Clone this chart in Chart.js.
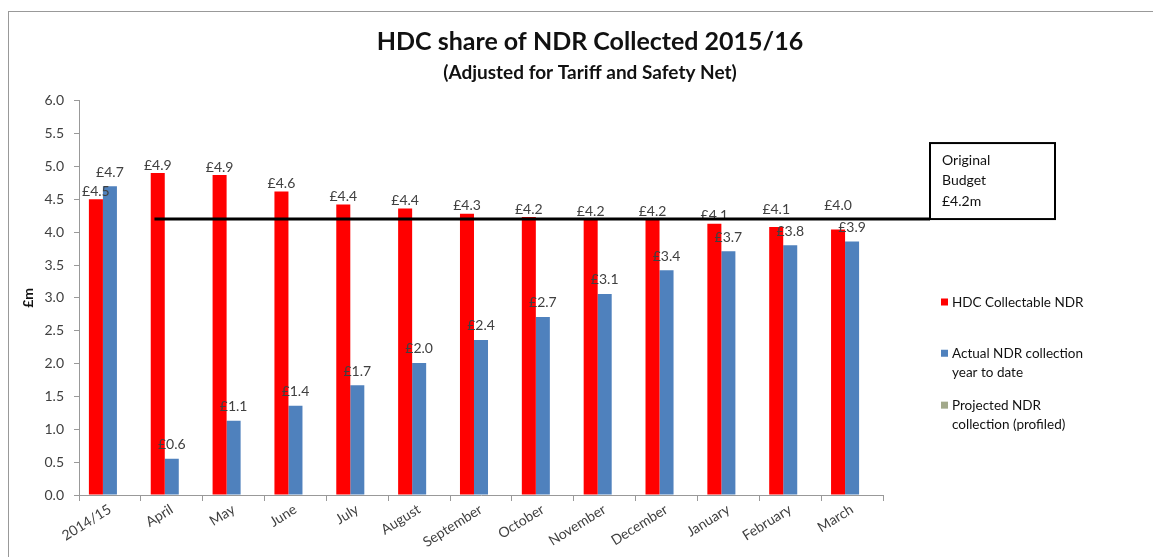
<!DOCTYPE html>
<html lang="en">
<head>
  <meta charset="UTF-8" />
  <title>HDC share of NDR Collected 2015/16</title>
  <script src="https://cdn.jsdelivr.net/npm/chart.js"></script>
  <style>
    body { margin: 0; background: #fff; font-family: Lato, sans-serif; overflow: hidden; }
    #frame { position: absolute; left: 8px; top: 11px; width: 1145px; height: 546px; border-top: 1px solid #999; border-left: 1px solid #999; }
    #frame canvas { display: block; }
  </style>
</head>
<body>
  <div id="frame"><canvas id="ndrChart" width="1144" height="545"></canvas></div>

  <script>
    // values, £m
    const categories = ['2014/15', 'April', 'May', 'June', 'July', 'August', 'September',
      'October', 'November', 'December', 'January', 'February', 'March'];
    const collectable = [4.50, 4.90, 4.87, 4.62, 4.42, 4.36, 4.28, 4.23, 4.20, 4.20, 4.13, 4.08, 4.04];
    const actualToDate = [4.70, 0.55, 1.13, 1.36, 1.67, 2.01, 2.36, 2.71, 3.06, 3.42, 3.71, 3.80, 3.86];
    const projected = [null, null, null, null, null, null, null, null, null, null, null, null, null];
    const budget = 4.2;
    const budgetText = ['Original', 'Budget', '£4.2m'];
    const yTicks = { min: 0, max: 6, step: 0.5 };

    const FONT = 'Lato, sans-serif';
    const TEXT = '#404040';

    // £ labels over each bar; red label moves up if the blue one sits just under it
    const barLabels = {
      id: 'barLabels',
      afterDatasetsDraw(chart) {
        const ctx = chart.ctx;
        const red = chart.getDatasetMeta(0).data;
        const blue = chart.getDatasetMeta(1).data;
        ctx.save();
        ctx.font = '14px ' + FONT;
        ctx.fillStyle = TEXT;
        ctx.textAlign = 'center';
        ctx.textBaseline = 'middle';
        red.forEach((bar, j) => {
          const b = blue[j];
          const by = b.y - 14;
          let ry = bar.y - 8;
          if (by >= ry && by - ry < 16) ry = by - 22;
          ctx.fillText('£' + collectable[j].toFixed(1), bar.x, ry);
          ctx.fillText('£' + actualToDate[j].toFixed(1), b.x, by);
        });
        ctx.restore();
      }
    };

    // budget line + callout box + side legend
    const budgetAndLegend = {
      id: 'budgetAndLegend',
      afterDraw(chart) {
        const ctx = chart.ctx;
        const x = chart.scales.x, y = chart.scales.y;
        const area = chart.chartArea;
        const catW = x.getPixelForValue(1) - x.getPixelForValue(0);
        const yb = y.getPixelForValue(budget);
        const boxL = area.right + 47, boxR = boxL + 125, boxT = yb - 76;

        ctx.save();
        ctx.strokeStyle = '#000';
        ctx.lineWidth = 3;
        ctx.beginPath();
        ctx.moveTo(x.getPixelForValue(1) - catW * 0.28, yb);
        ctx.lineTo(boxL, yb);
        ctx.stroke();

        ctx.lineWidth = 2;
        ctx.strokeRect(boxL, boxT, boxR - boxL, yb - boxT);
        ctx.fillStyle = '#111';
        ctx.font = '14px ' + FONT;
        ctx.textAlign = 'left';
        ctx.textBaseline = 'middle';
        budgetText.forEach((t, k) => ctx.fillText(t, boxL + 12, boxT + 17 + k * 20.5));

        // legend
        const lx = area.right + 58;
        const rows = [
          { ds: 0, lines: ['HDC Collectable NDR'], top: y.getPixelForValue(2.93) },
          { ds: 1, lines: ['Actual NDR collection', 'year to date'], top: y.getPixelForValue(2.15) },
          { ds: 2, lines: ['Projected NDR', 'collection (profiled)'], top: y.getPixelForValue(1.36) }
        ];
        ctx.font = '13.5px ' + FONT;
        rows.forEach(r => {
          ctx.fillStyle = chart.data.datasets[r.ds].backgroundColor;
          ctx.fillRect(lx, r.top - 4, 7, 7);
          ctx.fillStyle = '#111';
          r.lines.forEach((t, k) => ctx.fillText(t, lx + 11, r.top + k * 18.5));
        });
        ctx.restore();
      }
    };

    new Chart(document.getElementById('ndrChart'), {
      type: 'bar',
      data: {
        labels: categories,
        datasets: [
          { label: 'HDC Collectable NDR', data: collectable, backgroundColor: '#ff0000' },
          { label: 'Actual NDR collection year to date', data: actualToDate, backgroundColor: '#4f81bd' },
          { label: 'Projected NDR collection (profiled)', data: projected, backgroundColor: '#a2a98a' }
        ]
      },
      options: {
        responsive: false,
        animation: false,
        layout: { padding: { left: 18, top: 4, right: 0, bottom: 0 } },
        datasets: { bar: { barPercentage: 1, categoryPercentage: 0.68 } },
        plugins: {
          legend: { display: false },
          tooltip: { enabled: false },
          title: {
            display: true,
            text: 'HDC share of NDR Collected 2015/16',
            color: '#111',
            font: { family: FONT, size: 25, weight: 'bold' },
            padding: { top: 11, bottom: 2 }
          },
          subtitle: {
            display: true,
            text: '(Adjusted for Tariff and Safety Net)',
            color: '#111',
            font: { family: FONT, size: 19, weight: 'bold' },
            padding: { top: 2, bottom: 17 }
          }
        },
        scales: {
          x: {
            grid: { display: true, drawOnChartArea: false, offset: true, tickLength: 6, color: '#999' },
            border: { color: '#999' },
            ticks: { color: TEXT, font: { family: FONT, size: 14 }, minRotation: 32, maxRotation: 32, padding: 0 },
            afterFit: s => { s.height = 62; }
          },
          y: {
            min: yTicks.min, max: yTicks.max,
            grid: { display: true, drawOnChartArea: false, tickLength: 5, color: '#999' },
            border: { color: '#999' },
            ticks: { stepSize: yTicks.step, color: TEXT, padding: 10, font: { family: FONT, size: 14 },
              callback: v => v.toFixed(1) },
            title: { display: true, text: '£m', color: '#111', font: { family: FONT, size: 14, weight: 'bold' },
              padding: { top: -7, bottom: 0 } },
            afterFit: s => { s.width = 52; }
          },
          side: {
            position: 'right',
            grid: { display: false },
            border: { display: false },
            ticks: { display: false },
            afterFit: s => { s.width = 270; }
          }
        }
      },
      plugins: [barLabels, budgetAndLegend]
    });
  </script>
</body>
</html>
